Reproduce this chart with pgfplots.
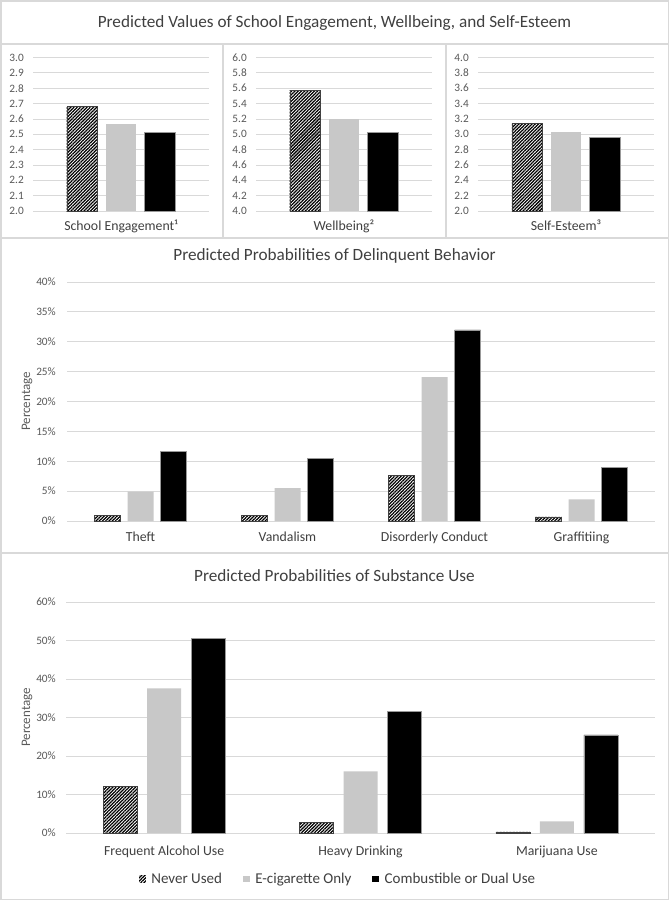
\documentclass[border=0pt]{standalone}
\usepackage{pgfplots}
\pgfplotsset{compat=1.18}
\usepackage{fontspec}
\setmainfont{Carlito}
\usetikzlibrary{patterns.meta}
\definecolor{gridc}{HTML}{D9D9D9}
\definecolor{tickc}{HTML}{595959}
\definecolor{labc}{HTML}{404040}
\definecolor{barg}{HTML}{C8C8C8}
\definecolor{framec}{HTML}{D9D9D9}

\pgfplotsset{
  mybase/.style={
    scale only axis,
    anchor=south west,
    axis line style={draw=none},
    major tick length=0pt,
    ymajorgrids,
    grid style={gridc, line width=0.8pt},
    tick label style={font=\fontsize{11.3}{13}\selectfont, color=tickc},
    yticklabel style={inner sep=0pt, anchor=east},
    xticklabel style={inner sep=0pt, anchor=base, font=\fontsize{13.8}{16}\selectfont, color=labc},
  },
  nev/.style={pattern={Lines[angle=45,distance=2.3pt,line width=1.25pt]}, pattern color=black, draw=black!75, line width=0.4pt,
    /pgfplots/legend image code/.code={\path[##1,draw=none] (0pt,-3.4pt) rectangle (6.8pt,3.4pt);}},
  eci/.style={fill=barg, draw=none,
    /pgfplots/legend image code/.code={\path[##1,draw=none] (0pt,-3.4pt) rectangle (6.8pt,3.4pt);}},
  com/.style={fill=black, draw=black!40, line width=0.6pt,
    /pgfplots/legend image code/.code={\path[##1,draw=none] (0pt,-3.4pt) rectangle (6.8pt,3.4pt);}},
}

\begin{document}
\begin{tikzpicture}
\useasboundingbox (0pt,0pt) rectangle (669pt,-900pt);
\fill[white] (0pt,0pt) rectangle (669pt,-900pt);

% ---------- Top row ----------
\begin{axis}[mybase, at={(33pt,-211pt)}, width=176pt, height=153.5pt,
  ybar=8.5pt, bar width=30.5pt, xmin=-0.5, xmax=0.5, ymin=2, ymax=3,
  ytick={2.0,2.1,2.2,2.3,2.4,2.5,2.6,2.7,2.8,2.9,3.0},
  yticklabels={2.0,2.1,2.2,2.3,2.4,2.5,2.6,2.7,2.8,2.9,3.0},
  yticklabel style={xshift=-9pt},
  xtick={0}, xticklabels={School Engagement¹},
  xticklabel style={yshift=-19.5pt}]
\addplot[nev] coordinates {(0,2.68)};
\addplot[eci] coordinates {(0,2.565)};
\addplot[com] coordinates {(0,2.51)};
\end{axis}

\begin{axis}[mybase, at={(256pt,-211pt)}, width=176pt, height=153.5pt,
  ybar=8.5pt, bar width=30.5pt, xmin=-0.5, xmax=0.5, ymin=4, ymax=6,
  ytick={4.0,4.2,4.4,4.6,4.8,5.0,5.2,5.4,5.6,5.8,6.0},
  yticklabels={4.0,4.2,4.4,4.6,4.8,5.0,5.2,5.4,5.6,5.8,6.0},
  yticklabel style={xshift=-9pt},
  xtick={0}, xticklabels={Wellbeing²},
  xticklabel style={yshift=-19.5pt}]
\addplot[nev] coordinates {(0,5.57)};
\addplot[eci] coordinates {(0,5.20)};
\addplot[com] coordinates {(0,5.03)};
\end{axis}

\begin{axis}[mybase, at={(478pt,-211pt)}, width=176pt, height=153.5pt,
  ybar=8.5pt, bar width=30.5pt, xmin=-0.5, xmax=0.5, ymin=2, ymax=4,
  ytick={2.0,2.2,2.4,2.6,2.8,3.0,3.2,3.4,3.6,3.8,4.0},
  yticklabels={2.0,2.2,2.4,2.6,2.8,3.0,3.2,3.4,3.6,3.8,4.0},
  yticklabel style={xshift=-9pt},
  xtick={0}, xticklabels={Self-Esteem³},
  xticklabel style={yshift=-19.5pt}]
\addplot[nev] coordinates {(0,3.14)};
\addplot[eci] coordinates {(0,3.03)};
\addplot[com] coordinates {(0,2.96)};
\end{axis}

% ---------- Middle ----------
\begin{axis}[mybase, at={(67pt,-521pt)}, width=588pt, height=239pt,
  ybar=7pt, bar width=26pt, xmin=-0.5, xmax=3.5, ymin=0, ymax=40,
  ytick={0,5,10,15,20,25,30,35,40},
  yticklabels={0\%,5\%,10\%,15\%,20\%,25\%,30\%,35\%,40\%},
  yticklabel style={xshift=-11pt},
  xtick={0,1,2,3}, xticklabels={Theft,Vandalism,Disorderly Conduct,Graffitiing},
  xticklabel style={yshift=-20.5pt},
  ylabel={Percentage},
  ylabel style={at={(axis description cs:-0.068,0.5)}, anchor=center, font=\fontsize{13}{15}\selectfont, color=tickc}]
\addplot[nev] coordinates {(0,1.0) (1,0.9) (2,7.6) (3,0.7)};
\addplot[eci] coordinates {(0,4.9) (1,5.5) (2,24.1) (3,3.6)};
\addplot[com] coordinates {(0,11.6) (1,10.5) (2,32.0) (3,9.0)};
\end{axis}

% ---------- Bottom ----------
\begin{axis}[mybase, at={(66pt,-833pt)}, width=589pt, height=231pt,
  ybar=10pt, bar width=34pt, xmin=-0.5, xmax=2.5, ymin=0, ymax=60,
  ytick={0,10,20,30,40,50,60},
  yticklabels={0\%,10\%,20\%,30\%,40\%,50\%,60\%},
  yticklabel style={xshift=-10pt},
  xtick={0,1,2}, xticklabels={Frequent Alcohol Use,Heavy Drinking,Marijuana Use},
  xticklabel style={yshift=-22pt},
  ylabel={Percentage},
  ylabel style={at={(axis description cs:-0.066,0.5)}, anchor=center, font=\fontsize{13}{15}\selectfont, color=tickc},
  legend columns=3,
  legend style={at={(axis description cs:0.462,-0.199)}, anchor=center, draw=none, fill=none,
    font=\fontsize{15}{17}\selectfont, text=labc,
    /tikz/every odd column/.append style={column sep=3.5pt},
    /tikz/every even column/.append style={column sep=19pt}}]
\addplot[nev] coordinates {(0,12.1) (1,2.7) (2,0.3)};
\addlegendentry{Never Used}
\addplot[eci] coordinates {(0,37.6) (1,16.0) (2,3.0)};
\addlegendentry{E-cigarette Only}
\addplot[com] coordinates {(0,50.5) (1,31.6) (2,25.5)};
\addlegendentry{Combustible or Dual Use}
\end{axis}

% ---------- Frame and titles ----------
\draw[framec, line width=1.5pt] (0.75pt,-0.75pt) rectangle (668.25pt,-899.25pt);
\draw[framec, line width=1.2pt] (0pt,-44pt) -- (669pt,-44pt);
\draw[framec, line width=1.2pt] (0pt,-238pt) -- (669pt,-238pt);
\draw[framec, line width=1.2pt] (0pt,-553pt) -- (669pt,-553pt);
\draw[framec, line width=1.2pt] (223pt,-44pt) -- (223pt,-238pt);
\draw[framec, line width=1.2pt] (446pt,-44pt) -- (446pt,-238pt);
\node[font=\fontsize{17.2}{20}\selectfont, text=labc] at (334.5pt,-23pt) {Predicted Values of School Engagement, Wellbeing, and Self-Esteem};
\node[font=\fontsize{17.2}{20}\selectfont, text=labc] at (334.5pt,-256pt) {Predicted Probabilities of Delinquent Behavior};
\node[font=\fontsize{17.2}{20}\selectfont, text=labc] at (334.5pt,-576pt) {Predicted Probabilities of Substance Use};
\end{tikzpicture}
\end{document}
